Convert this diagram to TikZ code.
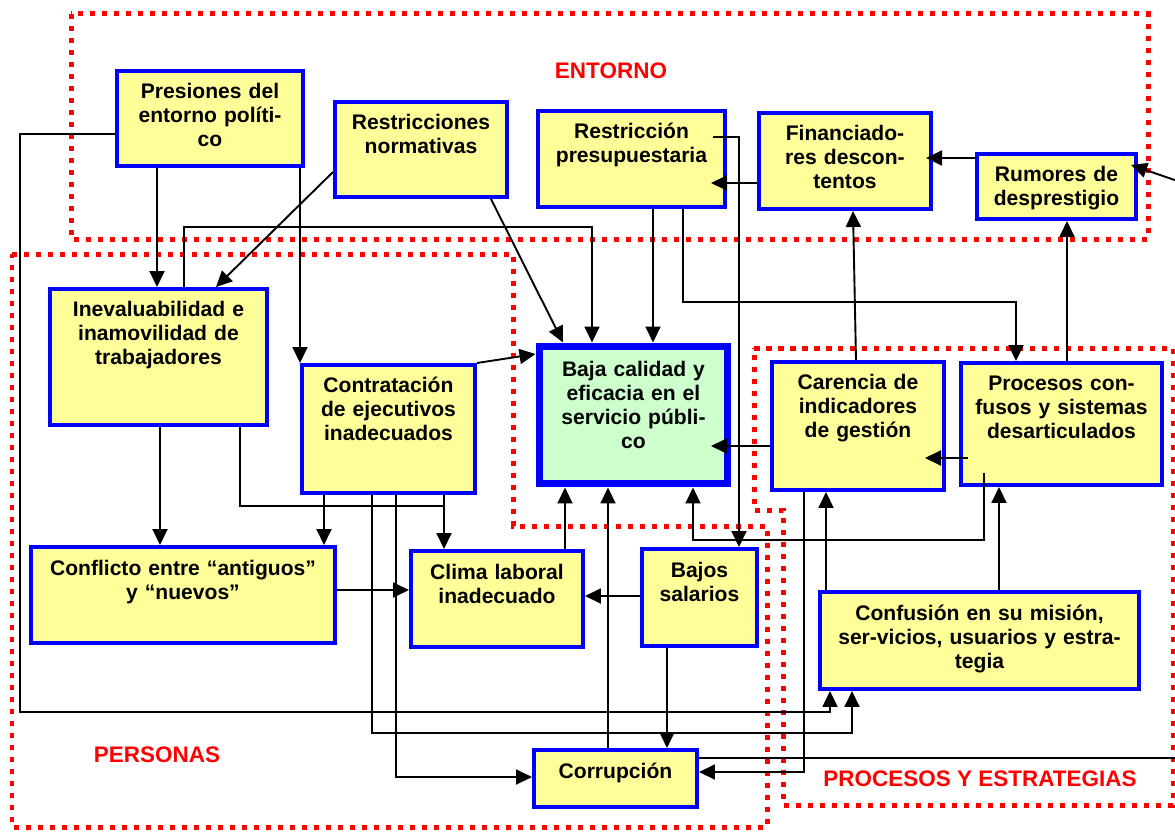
\documentclass[tikz,border=0pt]{standalone}
\usepackage{fontspec}
\setmainfont{Liberation Sans}
\usetikzlibrary{arrows.meta,calc}
\definecolor{boxyellow}{HTML}{FFFF99}
\definecolor{boxgreen}{HTML}{CCFFCC}
\definecolor{boxblue}{HTML}{0000FF}
\definecolor{zonered}{HTML}{FF0000}
\begin{document}
\begin{tikzpicture}[x=0.02cm, y=-0.02cm,
  box/.style={draw=boxblue, line width=0.08cm, fill=boxyellow, align=center, inner sep=0pt,
    anchor=north west, font=\fontsize{12}{13.66}\selectfont\bfseries, text height=0.56cm},
  mainbox/.style={box, fill=boxgreen, line width=0.14cm, text height=0.61cm},
  zone/.style={draw=zonered, line width=0.1cm, dash pattern=on 0.11cm off 0.13cm},
  zonelabel/.style={text=zonered, font=\fontsize{12.8}{15}\selectfont\bfseries, inner sep=0pt},
  conn/.style={draw=black, line width=0.038cm},
  arr/.style={conn, -{Triangle[length=0.32cm, width=0.3cm]}}
]
\useasboundingbox (0,0) rectangle (1175,831);
\clip (0,0) rectangle (1175,831);

% zones
\draw[zone] (71,14) rectangle (1148,239);
\draw[zone] (12,254) -- (513,254) -- (513,526) -- (767,526) -- (767,827) -- (12,827) -- cycle;
\draw[zone] (754,348) -- (1173,348) -- (1173,805) -- (783,805) -- (783,510) -- (754,510) -- cycle;

\node[zonelabel] (lentorno) at (611,71) {ENTORNO};
\node[zonelabel] (lpersonas) at (157,755) {PERSONAS};
\node[zonelabel] (lprocesos) at (980,779) {PROCESOS Y ESTRATEGIAS};

% boxes
\node[box, text width=3.72cm, text depth=1.34cm] (pe) at (115,69) {Presiones del\\entorno políti-\\co};
\node[box, text width=3.44cm, text depth=1.34cm] (rn) at (333,100) {Restricciones\\normativas};
\node[box, text width=3.74cm, text depth=1.36cm] (rp) at (536,109) {Restricción\\presupuestaria};
\node[box, text width=3.44cm, text depth=1.36cm] (fd) at (757,111) {Financiado-\\res descon-\\tentos};
\node[box, text width=3.18cm, text depth=0.74cm] (rd) at (975,152) {Rumores de\\desprestigio};
\node[box, text width=4.34cm, text depth=2.16cm] (ie) at (48,287) {Inevaluabilidad e\\inamovilidad de\\trabajadores};
\node[box, text width=3.46cm, text depth=2.00cm] (ce) at (300,363) {Contratación\\de ejecutivos\\inadecuados};
\node[mainbox, text width=3.78cm, text depth=2.15cm] (bc) at (535.5,342.5) {Baja calidad y\\eficacia en el\\servicio públi-\\co};
\node[box, text width=3.44cm, text depth=2.00cm] (ci) at (770,360) {Carencia de\\indicadores\\de gestión};
\node[box, text width=4.02cm, text depth=1.88cm] (pc) at (959,361) {Procesos con-\\fusos y sistemas\\desarticulados};
\node[box, text width=6.08cm, text depth=1.36cm] (cf) at (29,545) {Conflicto entre “antiguos”\\y “nuevos”};
\node[box, text width=3.44cm, text depth=1.36cm] (cl) at (409,549) {Clima laboral\\inadecuado};
\node[box, text width=2.30cm, text depth=1.38cm] (bs) at (640,547) {Bajos\\salarios};
\node[box, text width=6.38cm, text depth=1.38cm] (cm) at (818,590) {Confusión en su misión,\\ser-vicios, usuarios y estra-\\tegia};
\node[box, text width=3.26cm, text depth=0.58cm] (co) at (532,748) {Corrupción};

% connectors
\draw[arr] (pe.west |- 0,134) -- (20,134) -- (20,712) -- (830,712) -- (830,0 |- cm.south);
\draw[arr] (157,0 |- pe.south) -- (157,0 |- ie.north);
\draw[arr] (300,0 |- pe.south) -- (300,0 |- ce.north);
\draw[arr] (rn.west |- 0,172) -- (216,0 |- ie.north);
\draw[arr] (184,0 |- ie.north) -- (184,227) -- (592,227) -- (592,0 |- bc.north);
\draw[arr] (491,0 |- rn.south) -- (563,0 |- bc.north);
\draw[arr] (653,0 |- rp.south) -- (653,0 |- bc.north);
\draw[arr] (683,0 |- rp.south) -- (683,302) -- (1016,302) -- (1016,0 |- pc.north);
\draw[arr] ($(rp.east |- 0,137)+(-14,0)$) -- (739,137) -- (739,0 |- bs.north);
\draw[arr] (fd.west |- 0,183) -- (711,183);
\draw[arr] (rd.west |- 0,158) -- (926,158);
\draw[arr] (co.east |- 0,758) -- (1195,758) -- (1195,187) -- (1131,165);
\draw[arr] (856,0 |- ci.north) -- (853,0 |- fd.south);
\draw[arr] (1067,0 |- pc.north) -- (1067,0 |- rd.south);
\draw[arr] (ci.west |- 0,446) -- (711,446);
\draw[arr] ($(pc.west |- 0,458)+(9,0)$) -- (925,458);
\draw[arr] ($(pc.south west)+(25,-14)$) -- (984,540) -- (693,540) -- (693,0 |- bc.south);
\draw[arr] (999,0 |- cm.north) -- (999,0 |- pc.south);
\draw[arr] (826,0 |- cm.north) -- (826,0 |- ci.south);
\draw[arr] (804,0 |- ci.south) -- (804,772) -- (co.east |- 0,772);
\draw[arr] (667,0 |- bs.south) -- (667,0 |- co.north);
\draw[arr] (bs.west |- 0,596) -- (cl.east |- 0,596);
\draw[arr] (608,0 |- co.north) -- (608,0 |- bc.south);
\draw[arr] (565,0 |- cl.north) -- (565,0 |- bc.south);
\draw[arr] (cf.east |- 0,590) -- (cl.west |- 0,590);
\draw[arr] (160,0 |- ie.south) -- (160,0 |- cf.north);
\draw[conn] (240,0 |- ie.south) -- (240,506) -- (444,506);
\draw[arr] (444,0 |- ce.south) -- (444,0 |- cl.north);
\draw[arr] (324,0 |- ce.south) -- (324,0 |- cf.north);
\draw[arr] (ce.east |- 0,363) -- (bc.west |- 0,354);
\draw[arr] (372,0 |- ce.south) -- (372,733) -- (852,733) -- (852,0 |- cm.south);
\draw[arr] (396,0 |- ce.south) -- (396,777) -- (co.west |- 0,777);
\end{tikzpicture}
\end{document}
